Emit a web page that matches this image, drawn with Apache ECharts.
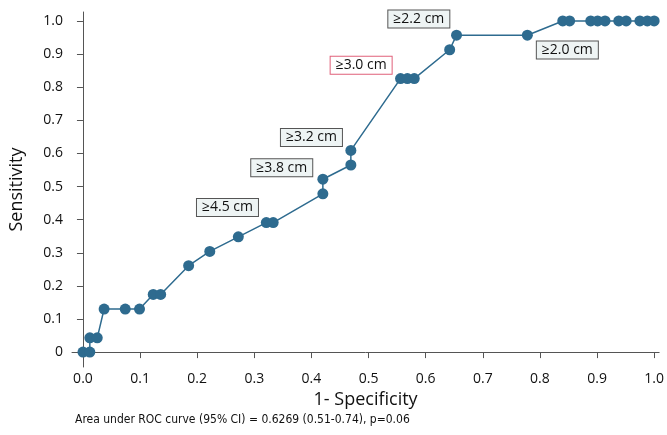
<!DOCTYPE html>
<html>
<head>
<meta charset="utf-8">
<script src="https://cdn.jsdelivr.net/npm/echarts@6/dist/echarts.min.js"></script>
<style>html,body{margin:0;padding:0;background:#fff}#c{width:667px;height:435px}</style>
</head>
<body>
<div id="c"></div>
<script>
// 1 - specificity (x) and sensitivity (y) of ROC points
const fpr = [0, 0.012, 0.012, 0.025, 0.037, 0.074, 0.099, 0.123, 0.136, 0.185, 0.222, 0.272, 0.321, 0.333, 0.420, 0.420, 0.469, 0.469, 0.556, 0.568, 0.580, 0.642, 0.654, 0.778, 0.840, 0.852, 0.889, 0.901, 0.914, 0.938, 0.951, 0.975, 0.988, 1.0];
const tpr = [0, 0, 0.043, 0.043, 0.130, 0.130, 0.130, 0.174, 0.174, 0.261, 0.304, 0.348, 0.391, 0.391, 0.478, 0.522, 0.565, 0.609, 0.826, 0.826, 0.826, 0.913, 0.957, 0.957, 1, 1, 1, 1, 1, 1, 1, 1, 1, 1];
const xTicks = [0, 0.1, 0.2, 0.3, 0.4, 0.5, 0.6, 0.7, 0.8, 0.9, 1.0];
const yTicks = [0, 0.1, 0.2, 0.3, 0.4, 0.5, 0.6, 0.7, 0.8, 0.9, 1.0];
// cut-off annotations: text and anchor in data units
const cutLabels = ['≥2.2 cm', '≥3.0 cm', '≥3.2 cm', '≥3.8 cm', '≥4.5 cm', '≥2.0 cm'];
const cutX = [0.588, 0.487, 0.400, 0.348, 0.253, 0.848];
const cutY = [1.006, 0.866, 0.648, 0.557, 0.437, 0.912];
const cutHighlight = [false, true, false, false, false, false];
const footnote = 'Area under ROC curve (95% CI) = 0.6269 (0.51-0.74), p=0.06';

const chart = echarts.init(document.getElementById('c'));
const font = 'Open Sans';
chart.setOption({
  animation: false,
  grid: { left: 72, right: 7, top: 12, bottom: 68, containLabel: false },
  xAxis: {
    type: 'value', min: -0.0192, max: 1.0087,
    name: '1- Specificity', nameLocation: 'middle', nameGap: 20,
    nameTextStyle: { fontFamily: font, fontSize: 18, color: '#111', fontWeight: 500 },
    axisLine: { show: true, lineStyle: { color: '#555', width: 1 } },
    axisTick: { show: true, length: 6, customValues: xTicks, lineStyle: { color: '#555' } },
    axisLabel: { customValues: xTicks, fontFamily: font, fontSize: 14, color: '#111', margin: 5,
      formatter: v => v.toFixed(1) },
    splitLine: { show: false }
  },
  yAxis: {
    type: 'value', min: -0.045, max: 1.027,
    name: 'Sensitivity', nameLocation: 'middle', nameGap: 46, nameRotate: 90,
    nameTextStyle: { fontFamily: font, fontSize: 18, color: '#111', fontWeight: 500 },
    axisLine: { show: true, lineStyle: { color: '#555', width: 1 } },
    axisTick: { show: true, length: 6, customValues: yTicks, lineStyle: { color: '#555' } },
    axisLabel: { customValues: yTicks, fontFamily: font, fontSize: 14, color: '#111', margin: 9,
      formatter: v => v === 0 ? '0' : v.toFixed(1) },
    splitLine: { show: false }
  },
  series: [{
    type: 'line',
    data: fpr.map((x, i) => [x, tpr[i]]),
    symbol: 'circle', symbolSize: 11,
    lineStyle: { color: '#2e6b8f', width: 1.5 },
    itemStyle: { color: '#2e6b8f' },
    markPoint: {
      symbol: 'rect', symbolSize: 0, silent: true,
      data: cutLabels.map((t, i) => ({
        coord: [cutX[i], cutY[i]],
        value: t,
        label: {
          show: true, formatter: t, position: 'inside',
          fontFamily: font, fontSize: 14, color: '#111',
          backgroundColor: cutHighlight[i] ? '#ffffff' : '#eef4f4',
          borderColor: cutHighlight[i] ? '#e0607a' : '#555',
          borderWidth: 1, padding: [2, 5, 1, 5]
        }
      }))
    }
  }],
  graphic: [{
    type: 'text', left: 75, top: 414,
    style: { text: footnote, fontFamily: 'DejaVu Sans Condensed, Liberation Sans', fontSize: 12, fontWeight: 500, fill: '#111' }
  }]
});
</script>
</body>
</html>
